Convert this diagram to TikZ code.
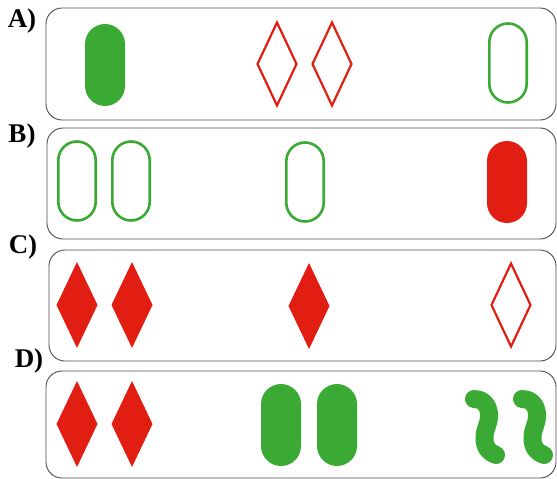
\documentclass[tikz,border=0pt]{standalone}
\usepackage{fontspec}
\newfontfamily\labfont{Liberation Serif}
\definecolor{cgreen}{RGB}{58,170,53}
\definecolor{cred}{RGB}{226,30,18}
\tikzset{
  panel/.style={draw=black!70, line width=0.9pt, rounded corners=16pt},
  lab/.style={font=\labfont\bfseries\fontsize{27}{27}\selectfont, anchor=center, inner sep=0pt},
  gfill/.style={fill=cgreen},
  rfill/.style={fill=cred},
  gline/.style={draw=cgreen, line width=2.6pt},
  rline/.style={draw=cred, line width=2.2pt, line join=miter},
  capsule/.pic={\path[pic actions, rounded corners=20pt] (-20,-41) rectangle (20,41);},
  capsuleo/.pic={\path[pic actions, rounded corners=18.7pt] (-18.7,-39.5) rectangle (18.7,39.5);},
  rhomb/.pic={\path[pic actions] (0,-43) -- (20.5,0) -- (0,43) -- (-20.5,0) -- cycle;},
  rhombo/.pic={\path[pic actions] (0,-41.5) -- (19.5,0) -- (0,41.5) -- (-19.5,0) -- cycle;},
  worm/.pic={\path[pic actions, line width=18pt, line cap=round, line join=round]
     (0,0) .. controls (14,0) and (18,14) .. (13,27) .. controls (8,40) and (10,52) .. (22,56);},
}
\begin{document}
\begin{tikzpicture}[x=1pt,y=-1pt]
\useasboundingbox (0,0) rectangle (557,479);
% panels
\draw[panel] (46,8) rectangle (556,120);
\draw[panel] (47,128) rectangle (556,239);
\draw[panel] (49,250) rectangle (556,361);
\draw[panel] (46,371) rectangle (556,478);
% labels
\node[lab] (la) at (22,21) {A)};
\node[lab] (lb) at (22,136) {B)};
\node[lab] (lc) at (23,247) {C)};
\node[lab] (ld) at (29,361) {D)};
% A
\pic[gfill] at (105,65) {capsule};
\pic[rline] at (277,64) {rhombo};
\pic[rline] at (332,64) {rhombo};
\pic[gline] at (508,63) {capsuleo};
% B
\pic[gline] at (77,181) {capsuleo};
\pic[gline] at (131,181) {capsuleo};
\pic[gline] at (305,182) {capsuleo};
\pic[rfill] at (507,182) {capsule};
% C
\pic[rfill] at (77,305) {rhomb};
\pic[rfill] at (132,305) {rhomb};
\pic[rfill] at (309,306) {rhomb};
\pic[rline] at (511,305) {rhombo};
% D
\pic[rfill] at (77,424) {rhomb};
\pic[rfill] at (132,424) {rhomb};
\pic[gfill] at (281,425) {capsule};
\pic[gfill] at (337,425) {capsule};
\pic[draw=cgreen] at (474,399) {worm};
\pic[draw=cgreen] at (522,399) {worm};
\end{tikzpicture}
\end{document}
